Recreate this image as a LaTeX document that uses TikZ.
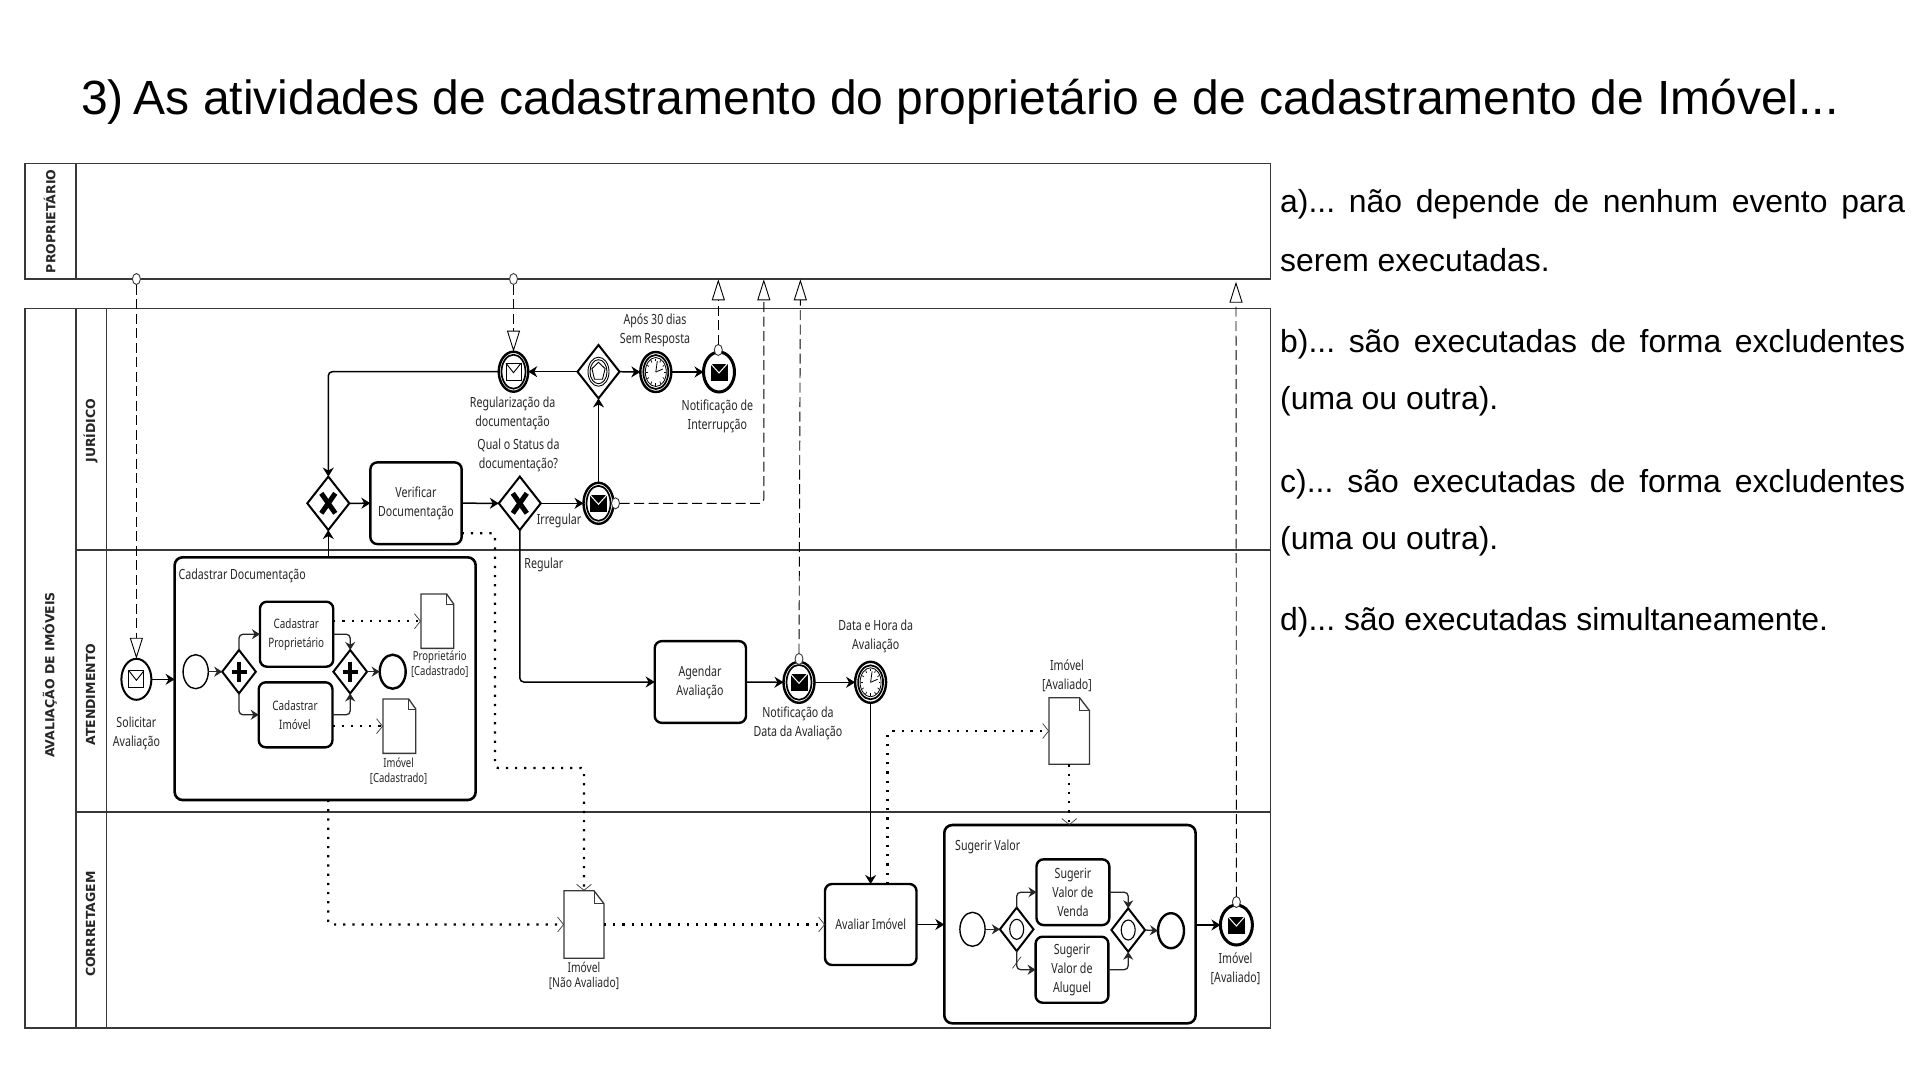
\documentclass[tikz,border=0pt]{standalone}
\usepackage{fontspec}
\usetikzlibrary{shapes.geometric,arrows.meta}
\setmainfont{Liberation Sans}
\newfontfamily\lblfont[FakeStretch=0.76]{Noto Sans}
\newfontfamily\lanefont{DejaVu Sans}
\definecolor{lineg}{gray}{0.22}
\definecolor{txtg}{gray}{0.15}
\tikzset{
  x=1pt,y=-1pt,
  sz/.style 2 args={minimum width=#1pt,minimum height=#2pt},
  pool/.style={draw=lineg,line width=1.6pt,fill=white},
  lanetxt/.style={font=\lanefont\bfseries\fontsize{12.5}{12.5}\selectfont,rotate=90,text=txtg,inner sep=0pt},
  lbl/.style={font=\lblfont\fontsize{14}{19}\selectfont,align=center,text=txtg,inner sep=0pt},
  lblsm/.style={font=\lblfont\fontsize{12.5}{15.2}\selectfont,align=center,text=txtg,inner sep=0pt},
  ev/.style={ellipse,draw=black,fill=white,inner sep=0pt,outer sep=0pt,line width=2pt},
  evthick/.style={ev,line width=3pt},
  gw/.style={diamond,draw=black,fill=white,inner sep=0pt,outer sep=0pt,line width=2pt},
  taskbox/.style={draw=black,fill=white,rounded corners=7pt,line width=2.4pt,inner sep=0pt,outer sep=0pt},
  subbox/.style={draw=black,rounded corners=8pt,line width=2.6pt,inner sep=0pt,outer sep=0pt},
  docbox/.style={inner sep=0pt,outer sep=0pt},
  seqf/.style={draw=black,line width=1.5pt,rounded corners=4pt,-{Stealth[length=9pt,width=11pt]}},
  seqs/.style={draw=black!85,line width=1.3pt,rounded corners=4pt,-{Stealth[length=8pt,width=10pt]}},
  msgin/.style={draw=black,line width=.9pt,dash pattern=on 10pt off 4.5pt,-{Triangle[length=21pt,width=13pt,fill=white]}},
  dotf/.style={draw=black,line width=2.2pt,dash pattern=on 2.2pt off 7pt,rounded corners=3pt},
  dotarrow/.style={dotf,-{Straight Barb[length=6pt,width=15pt,line width=0.7pt,color=lineg]}},
  optxt/.style={font=\fontsize{31.9}{31.9}\selectfont,anchor=base west,inner sep=0pt,text=black},
  msgdot/.style={ellipse,draw=lineg,fill=white,line width=.9pt,inner sep=0pt,outer sep=0pt,minimum width=8pt,minimum height=11pt},
}
\newcommand{\whiteenv}[1]{%
  \draw[line width=.9pt,fill=white] ([shift={(-7.5,-8.5)}]#1.center) rectangle ([shift={(7.5,8.5)}]#1.center);
  \draw[line width=.9pt] ([shift={(-7.5,-8.5)}]#1.center) -- ([shift={(0,1)}]#1.center) -- ([shift={(7.5,-8.5)}]#1.center);}
\newcommand{\blackenv}[1]{%
  \fill[black] ([shift={(-8.5,-8.5)}]#1.center) rectangle ([shift={(8.5,8.5)}]#1.center);
  \draw[white,line width=1pt] ([shift={(-8.5,-8.5)}]#1.center) -- ([shift={(0,1)}]#1.center) -- ([shift={(8.5,-8.5)}]#1.center);}
\newcommand{\ring}[3]{\draw[line width=1.7pt] (#1.center) ellipse (#2 and #3);}
\newcommand{\clockface}[1]{%
  \ring{#1}{12.5pt}{17pt}
  \draw[line width=.8pt] (#1.center) ellipse (10.5pt and 14.5pt);
  \foreach \a in {0,30,...,330}{\draw[line width=.7pt] ([shift={({9.7*cos(\a)},{13.5*sin(\a)})}]#1.center) -- ([shift={({8*cos(\a)},{11*sin(\a)})}]#1.center);}
  \draw[line width=.8pt] (#1.center) -- ([shift={(1.5,-11)}]#1.center);
  \draw[line width=.8pt] (#1.center) -- ([shift={(7,-3)}]#1.center);}
\newcommand{\xmark}[1]{%
  \draw[line width=5pt] ([shift={(-7,-10)}]#1.center) -- ([shift={(7,10)}]#1.center);
  \draw[line width=5pt] ([shift={(7,-10)}]#1.center) -- ([shift={(-7,10)}]#1.center);}
\newcommand{\plusmark}[1]{%
  \draw[line width=4.2pt] ([shift={(-7.5,0)}]#1.center) -- ([shift={(7.5,0)}]#1.center);
  \draw[line width=4.2pt] ([shift={(0,-10)}]#1.center) -- ([shift={(0,10)}]#1.center);}
\newcommand{\docshape}[3]{%
  \draw[line width=1.3pt,draw=lineg,fill=white] (#1.north west) -- ([xshift=-#2pt]#1.north east) -- ([yshift=-#3pt]#1.north east) -- (#1.south east) -- (#1.south west) -- cycle;
  \draw[line width=.7pt,draw=lineg] ([xshift=-#2pt]#1.north east) |- ([yshift=-#3pt]#1.north east);}
\begin{document}
\frenchspacing
\begin{tikzpicture}
\useasboundingbox (0,0) rectangle (1920,1080);
\node[font=\fontsize{48}{48}\selectfont,anchor=base west,inner sep=0pt] (title) at (81,114) {3)\hspace{10pt}As atividades de cadastramento do proprietário e de cadastramento de Imóvel...};

% pools and lanes
\draw[pool] (25,163.5) rectangle (1270.5,279);
\draw[lineg,line width=1.4pt] (76,163.5) -- (76,279);
\draw[pool] (25,308.5) rectangle (1270.5,1028);
\draw[lineg,line width=1.4pt] (76,308.5) -- (76,1028);
\draw[lineg,line width=1pt] (106.5,308.5) -- (106.5,1028);
\draw[lineg,line width=1.2pt] (76,550) -- (1270.5,550);
\draw[lineg,line width=1.6pt] (76,812) -- (1270.5,812);
\node[lanetxt] (lprop) at (49.7,221.3) {PROPRIETÁRIO};
\node[lanetxt] (lav) at (49.7,675) {AVALIAÇÃO DE IMÓVEIS};
\node[lanetxt] (ljur) at (90.5,430.5) {JURÍDICO};
\node[lanetxt] (late) at (90.5,694.7) {ATENDIMENTO};
\node[lanetxt] (lcor) at (90.5,924) {CORRRETAGEM};

% free ends of message flows on the pool border
\coordinate (tA) at (718.3,279.3);
\coordinate (tB) at (763.8,279.3);
\coordinate (tC) at (800.4,279.3);
\coordinate (tD) at (1236,281.7);
\coordinate (cB) at (763.8,503.3);

% subprocess boxes
\node[subbox,sz={301}{242.7}] (cad) at (325.15,678.65) {};
\node[subbox,sz={251.3}{198.3}] (sug) at (1069.95,924.15) {};

% events
\node[ev,sz={30}{41}] (sol) at (136.4,679.3) {};
\whiteenv{sol}
\node[ev,line width=2.4pt,sz={29.5}{40}] (reg) at (513.5,371.7) {};
\ring{reg}{12pt}{17pt}
\whiteenv{reg}
\node[gw,sz={42}{53.4}] (egw) at (598.5,371.7) {};
\draw[line width=.9pt] (egw.center) ellipse (10.5pt and 14.5pt);
\draw[line width=.9pt] (egw.center) ellipse (8.5pt and 12pt);
\draw[line width=.9pt] ([shift={(0,-9.5)}]egw.center) -- ([shift={(6.6,-3)}]egw.center) -- ([shift={(4,7.5)}]egw.center) -- ([shift={(-4,7.5)}]egw.center) -- ([shift={(-6.6,-3)}]egw.center) -- cycle;
\node[ev,line width=2.4pt,sz={31}{40}] (tim1) at (655.8,372) {};
\clockface{tim1}
\node[evthick,sz={31}{40}] (nin) at (719,372) {};
\blackenv{nin}
\node[msgdot] (ninc) at (718.3,350) {};
\node[gw,sz={42}{53.4}] (gx1) at (328.3,503.3) {};
\xmark{gx1}
\node[taskbox,sz={91.3}{81.7}] (ver) at (416,503.2) {};
\node[gw,sz={42}{53.4}] (gx2) at (519.8,503.3) {};
\xmark{gx2}
\node[ev,line width=2.4pt,sz={30}{41}] (msg) at (598.5,503.3) {};
\ring{msg}{12pt}{17.5pt}
\blackenv{msg}
\node[msgdot] (msgc) at (615.5,503.3) {};
\node[taskbox,sz={91.3}{81.7}] (age) at (700.35,682) {};
\node[ev,line width=2.4pt,sz={31}{41}] (nda) at (799,682.3) {};
\ring{nda}{12.5pt}{17.5pt}
\blackenv{nda}
\node[msgdot] (ndac) at (799,659) {};
\node[ev,line width=2.4pt,sz={31}{41}] (tim2) at (870.6,682.3) {};
\clockface{tim2}
\node[taskbox,sz={91.5}{81}] (ava) at (870.75,924.5) {};
\node[evthick,sz={32}{40}] (nim) at (1236.4,925) {};
\blackenv{nim}
\node[msgdot] (nimc) at (1236.4,902) {};

% inner of Cadastrar Documentacao
\node[ev,line width=1.4pt,sz={25.2}{34}] (cs) at (195.7,671.7) {};
\node[gw,sz={33.6}{43.4}] (cg1) at (239,671.7) {};
\plusmark{cg1}
\node[taskbox,sz={73.3}{65}] (cpr) at (296.6,634.2) {};
\node[taskbox,sz={73.7}{65}] (cim) at (295.6,714.8) {};
\node[gw,sz={33.6}{43.4}] (cg2) at (350.2,671.7) {};
\plusmark{cg2}
\node[ev,line width=2.4pt,sz={26}{34}] (ce) at (392.7,671.7) {};
\node[docbox,sz={32.8}{54.3}] (dpr) at (437.3,621.2) {};
\docshape{dpr}{7}{10}
\node[docbox,sz={32.8}{54.3}] (dim) at (399.4,726.2) {};
\docshape{dim}{7}{10}

% inner of Sugerir Valor
\node[ev,line width=1.4pt,sz={25.2}{34}] (ss) at (972.5,929.3) {};
\node[gw,sz={33.6}{43.4}] (sg1) at (1016.7,929.3) {};
\draw[line width=1.1pt] (sg1.center) ellipse (7pt and 10pt);
\node[taskbox,sz={72.8}{65.7}] (sve) at (1072.9,892.2) {};
\node[taskbox,sz={72.8}{66}] (sal) at (1072,969.7) {};
\node[gw,sz={33.6}{43.4}] (sg2) at (1128.2,930) {};
\draw[line width=1.1pt] (sg2.center) ellipse (7pt and 10pt);
\node[ev,line width=2.4pt,sz={26}{35}] (se) at (1171,930.7) {};

% data objects
\node[docbox,sz={40}{67.6}] (dna) at (584,924.5) {};
\docshape{dna}{10}{13}
\node[docbox,sz={40.5}{66.6}] (dav) at (1069.3,731) {};
\docshape{dav}{10}{13}

% sequence flows
\draw[seqf] (sol.east) -- (cad.west |- sol.east);
\draw[seqf] (reg.west) -| (gx1.north);
\draw[seqf] (cad.north -| gx1.south) -- (gx1.south);
\draw[seqf] (gx1.east) -- (ver.west);
\draw[seqf] (ver.east) -- (gx2.west);
\draw[seqf] (gx2.east) -- (msg.west);
\draw[seqf] (msg.north) -- (egw.south);
\draw[seqf] (egw.west) -- (reg.east);
\draw[seqf] (egw.east) -- (tim1.west);
\draw[seqf] (tim1.east) -- (nin.west);
\draw[seqf] (gx2.south) |- (age.west);
\draw[seqf] (age.east) -- (nda.west);
\draw[seqf] (nda.east) -- (tim2.west);
\draw[seqf] (tim2.south) -- (ava.north -| tim2.south);
\draw[seqf] (ava.east) -- (sug.west |- ava.east);
\draw[seqf] (sug.east |- nim.west) -- (nim.west);
\draw[seqs] (cs.east) -- (cg1.west);
\draw[seqs] (cg1.north) |- (cpr.west);
\draw[seqs] (cg1.south) |- (cim.west);
\draw[seqs] (cpr.east) -| (cg2.north);
\draw[seqs] (cim.east) -| (cg2.south);
\draw[seqs] (cg2.east) -- (ce.west);
\draw[seqs] (ss.east) -- (sg1.west);
\draw[seqs] (sg1.north) |- (sve.west);
\draw[seqs] (sg1.south) |- (sal.west);
\draw[seqs] (sve.east) -| (sg2.north);
\draw[seqs] (sal.east) -| (sg2.south);
\draw[seqs] (sg2.east) -- (se.west);
\coordinate (ds1) at (1012.5,968.3);
\coordinate (ds2) at (1021,956.7);
\draw[lineg,line width=.7pt] (ds1) -- (ds2);

% message flows
\node[msgdot] (mo1) at (136.4,279) {};
\node[msgdot] (mo2) at (513.5,279) {};
\draw[msgin] (mo1.south) -- (sol.north);
\draw[msgin] (mo2.south) -- (reg.north);
\draw[msgin] (ninc.north) -- (tA);
\draw[msgin,rounded corners=4pt] (msgc.east) -- (cB) -- (tB);
\draw[msgin] (ndac.north) -- (tC);
\draw[msgin] (nimc.north) -- (tD);

% dotted associations
\coordinate (v1) at (461.7,533.3);
\coordinate (v2) at (495,533.3);
\coordinate (v3) at (495,768);
\draw[dotarrow] (v1) -- (v2) -- (v3) -| (dna.north);
\coordinate (c1) at (328.3,800);
\draw[dotarrow] (c1) |- (dna.west);
\draw[dotarrow] (dna.east) -- (dna.east -| ava.west);
\coordinate (a1) at (887.5,884);
\draw[dotarrow] (a1) |- (dav.west);
\draw[dotarrow] (dav.south) -- (sug.north -| dav.south);
\draw[dotarrow] (cpr.east |- dpr.west) -- (dpr.west);
\draw[dotarrow] (cim.east |- dim.west) -- (dim.west);

% labels
\node[lbl] (t1) at (512.6,413) {Regularização da\\documentação};
\node[lbl] (t2) at (518.5,455) {Qual o Status da\\documentação?};
\node[lbl] (t3) at (655,330) {Após 30 dias\\Sem Resposta};
\node[lbl] (t4) at (717.4,416) {Notificação de\\Interrupção};
\node[lbl] (t5) at (416,503.2) {Verificar\\Documentação};
\node[lbl] (t6) at (559,520.7) {Irregular};
\node[lbl] (t7) at (543.8,565) {Regular};
\node[lbl] (t8) at (136.4,733.8) {Solicitar\\Avaliação};
\node[lbl,anchor=west] (t9) at (178.5,575.7) {Cadastrar Documentação};
\node[lbl,font=\lblfont\fontsize{13}{19}\selectfont] (t10) at (296.3,634.2) {Cadastrar\\Proprietário};
\node[lbl,font=\lblfont\fontsize{13}{19}\selectfont] (t11) at (295,714.8) {Cadastrar\\Imóvel};
\node[lblsm] (t12) at (439.8,664.2) {Proprietário\\{[}Cadastrado{]}};
\node[lblsm] (t13) at (398.6,771.3) {Imóvel\\{[}Cadastrado{]}};
\node[lbl] (t14) at (700,682) {Agendar\\Avaliação};
\node[lbl] (t15) at (798,723) {Notificação da\\Data da Avaliação};
\node[lbl] (t16) at (875.7,636) {Data e Hora da\\Avaliação};
\node[lbl] (t17) at (1067,676.2) {Imóvel\\{[}Avaliado{]}};
\node[lbl] (t18) at (870.75,924) {Avaliar Imóvel};
\node[lbl,anchor=west] (t19) at (955,846.7) {Sugerir Valor};
\node[lbl] (t20) at (1072.9,892.2) {Sugerir\\Valor de\\Venda};
\node[lbl] (t21) at (1072,969.7) {Sugerir\\Valor de\\Aluguel};
\node[lbl,font=\lblfont\fontsize{13.5}{15}\selectfont] (t22) at (584,975.5) {Imóvel\\{[}Não Avaliado{]}};
\node[lbl] (t23) at (1235.5,968.8) {Imóvel\\{[}Avaliado{]}};

% answers
\node[optxt] (o1) at (1280,212.7) {\makebox[625pt][s]{a)... não depende de nenhum evento para}};
\node[optxt] (o2) at (1280,271) {serem executadas.};
\node[optxt] (o3) at (1280,352) {\makebox[625pt][s]{b)... são executadas de forma excludentes}};
\node[optxt] (o4) at (1280,409) {(uma ou outra).};
\node[optxt] (o5) at (1280,492) {\makebox[625pt][s]{c)... são executadas de forma excludentes}};
\node[optxt] (o6) at (1280,549) {(uma ou outra).};
\node[optxt] (o7) at (1280,630.3) {d)... são executadas simultaneamente.};
\end{tikzpicture}
\end{document}
